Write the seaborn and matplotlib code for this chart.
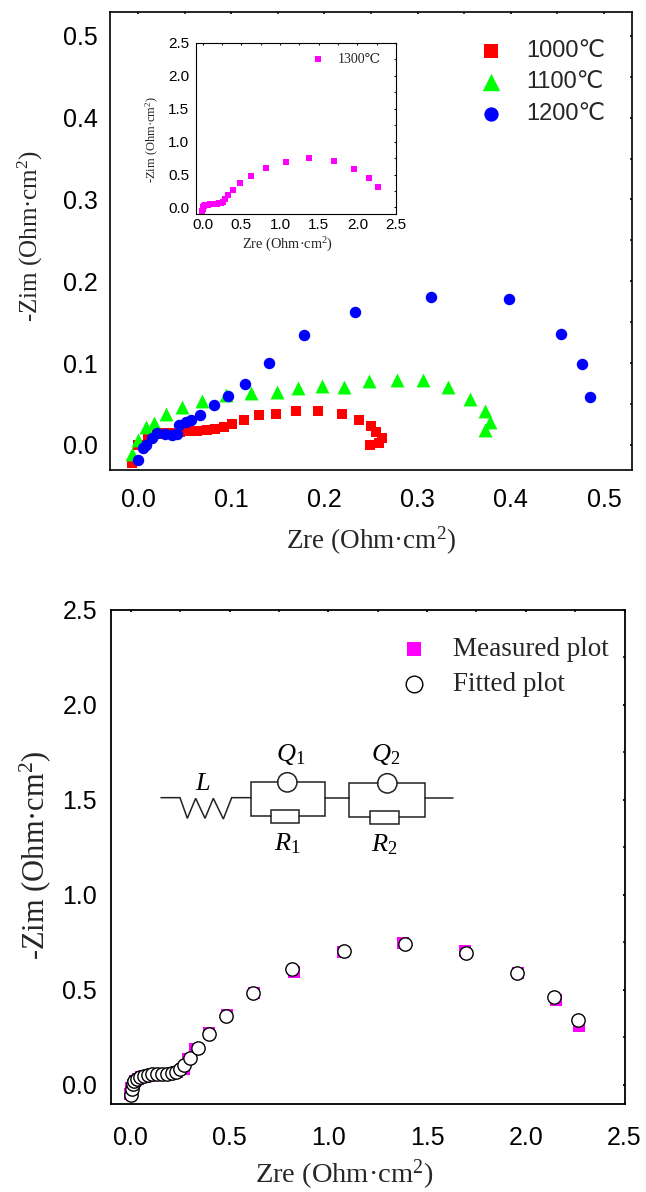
import matplotlib
matplotlib.use("Agg")
import matplotlib.pyplot as plt
import seaborn as sns
from matplotlib.patches import Circle, Rectangle
from matplotlib.ticker import MultipleLocator

# impedance data
x_1000 = [-0.006, 0.0, 0.011, 0.02, 0.029, 0.036, 0.045, 0.054, 0.063, 0.074, 0.083, 0.092, 0.1005, 0.114, 0.13,
          0.148, 0.17, 0.193, 0.219, 0.237, 0.25, 0.255, 0.262, 0.259, 0.249]
y_1000 = [-0.022, 0.0, 0.009, 0.013, 0.014, 0.015, 0.016, 0.017, 0.0175, 0.018, 0.02, 0.022, 0.026, 0.031, 0.036,
          0.038, 0.041, 0.042, 0.038, 0.031, 0.023, 0.016, 0.009, 0.002, 0.0]
x_1100 = [-0.006, 0.0, 0.009, 0.0175, 0.03, 0.047, 0.069, 0.094, 0.121, 0.149, 0.172, 0.197, 0.221, 0.248, 0.278,
          0.306, 0.333, 0.356, 0.372, 0.378, 0.372]
y_1100 = [-0.011, 0.006, 0.022, 0.027, 0.0375, 0.046, 0.054, 0.061, 0.064, 0.065, 0.069, 0.072, 0.071, 0.078, 0.079,
          0.079, 0.071, 0.056, 0.042, 0.028, 0.018]
x_1200 = [0.0, 0.005, 0.009, 0.015, 0.02, 0.029, 0.036, 0.042, 0.044, 0.0515, 0.057, 0.067, 0.0815, 0.097, 0.115,
          0.141, 0.178, 0.233, 0.314, 0.398, 0.4535, 0.476, 0.485]
y_1200 = [-0.018, -0.004, 0.0, 0.008, 0.014, 0.0135, 0.012, 0.013, 0.024, 0.0285, 0.031, 0.037, 0.049, 0.06, 0.075,
          0.1, 0.134, 0.163, 0.1805, 0.178, 0.136, 0.0995, 0.059]

x_meas = [-0.005, 0.0, 0.01, 0.02, 0.035, 0.05, 0.07, 0.09, 0.11, 0.135, 0.16, 0.185, 0.21, 0.235, 0.27, 0.29,
          0.326, 0.394, 0.487, 0.625, 0.826, 1.073, 1.38, 1.694, 1.959, 2.155, 2.271]
y_meas = [-0.048, -0.02, 0.0, 0.018, 0.03, 0.038, 0.043, 0.046, 0.05, 0.053, 0.055, 0.057, 0.06, 0.066, 0.084, 0.135,
          0.187, 0.27, 0.365, 0.485, 0.595, 0.698, 0.744, 0.703, 0.589, 0.447, 0.31]
x_fit = [0.0, 0.005, 0.01, 0.017, 0.031, 0.048, 0.065, 0.085, 0.107, 0.132, 0.157, 0.183, 0.208, 0.228, 0.247, 0.27,
         0.301, 0.338, 0.396, 0.482, 0.62, 0.816, 1.079, 1.39, 1.697, 1.956, 2.141, 2.265]
y_fit = [-0.053, -0.021, 0.002, 0.017, 0.031, 0.042, 0.047, 0.05, 0.054, 0.056, 0.056, 0.056, 0.06, 0.066, 0.08, 0.103,
         0.138, 0.191, 0.266, 0.363, 0.485, 0.607, 0.705, 0.742, 0.695, 0.587, 0.459, 0.34]

sans = ["Liberation Sans", "DejaVu Sans"]
serif = ["Liberation Serif", "DejaVu Serif"]
W, H = 646, 1192

sns.set_theme(style="white")
plt.rcParams["font.family"] = sans
plt.rcParams["mathtext.fontset"] = "custom"
plt.rcParams["mathtext.rm"] = "Liberation Serif"
plt.rcParams["mathtext.it"] = "Liberation Serif:italic"
plt.rcParams["mathtext.default"] = "regular"

XLAB = "Zre (Ohm·cm$^{2}$)"
YLAB = "-Zim (Ohm·cm$^{2}$)"


def px_axes(left, top, right, bottom):
    return fig.add_axes([left / W, 1 - bottom / H, (right - left) / W, (bottom - top) / H])


def style_axes(ax, xmaj, xmin, ymaj, ymin, size, maj, mnr, xpad, ypad, lw):
    ax.xaxis.set_major_locator(MultipleLocator(xmaj))
    ax.xaxis.set_minor_locator(MultipleLocator(xmin))
    ax.yaxis.set_major_locator(MultipleLocator(ymaj))
    ax.yaxis.set_minor_locator(MultipleLocator(ymin))
    ax.xaxis.set_major_formatter("{x:.1f}")
    ax.yaxis.set_major_formatter("{x:.1f}")
    ax.tick_params(which="major", direction="in", length=maj, width=lw, top=True, right=True, labelsize=size,
                   colors="black")
    ax.tick_params(which="minor", direction="in", length=mnr, width=lw, top=True, right=True)
    ax.tick_params(axis="x", which="major", pad=xpad)
    ax.tick_params(axis="y", which="major", pad=ypad)
    # the top and right ticks are only small stubs in the original
    for axis in (ax.xaxis, ax.yaxis):
        for tick in axis.get_major_ticks() + axis.get_minor_ticks():
            tick.tick2line.set_markersize(1.2)
    for spine in ax.spines.values():
        spine.set_visible(True)
        spine.set_color("black")
        spine.set_linewidth(lw)


fig = plt.figure(figsize=(W / 100, H / 100), dpi=100)

# top panel
ax1 = px_axes(110, 12, 632, 470)
sns.scatterplot(x=x_1000, y=y_1000, marker="s", color="#ff0000", s=57, linewidth=0, label="1000℃", ax=ax1, zorder=3)
sns.scatterplot(x=x_1100, y=y_1100, marker="^", color="#00ff00", s=100, linewidth=0, label="1100℃", ax=ax1, zorder=4)
sns.scatterplot(x=x_1200, y=y_1200, marker="o", color="#0000ff", s=68, linewidth=0, label="1200℃", ax=ax1, zorder=5)
ax1.set_xlim(-0.03, 0.53)
ax1.set_ylim(-0.0306, 0.529)
style_axes(ax1, 0.1, 0.05, 0.1, 0.05, 18, 6.7, 3.6, 13, 9, 1.2)
ax1.set_xlabel(XLAB, family=serif, fontsize=19.5)
ax1.set_ylabel(YLAB, family=serif, fontsize=18)
ax1.xaxis.set_label_coords(0.5, (470 - 541) / 458, transform=ax1.transAxes)
ax1.yaxis.set_label_coords((30 - 110) / 522, 1 - (236 - 12) / 458, transform=ax1.transAxes)
ax1.xaxis.label.set_va("center")
ax1.yaxis.label.set_va("center")
ax1.legend(loc="upper left", bbox_to_anchor=((467 - 110) / 522, 1 - (40 - 12) / 458), frameon=False, fontsize=17,
           markerscale=1.25, handletextpad=0.52, labelspacing=0.4, borderpad=0, borderaxespad=0)

# small panel inside the top one
ax_in = px_axes(196, 43, 396, 214)
sns.scatterplot(x=x_meas, y=y_meas, marker="s", color="#ff00ff", s=13, linewidth=0, label="1300℃", ax=ax_in)
ax_in.set_xlim(-0.085, 2.5)
ax_in.set_ylim(-0.1, 2.5)
style_axes(ax_in, 0.5, 0.25, 0.5, 0.25, 11, 3.5, 2, 3, 5, 0.8)
ax_in.set_xlabel(XLAB, family=serif, fontsize=10.4)
ax_in.set_ylabel(YLAB, family=serif, fontsize=9)
ax_in.xaxis.set_label_coords((288 - 196) / 200, (214 - 245) / 171, transform=ax_in.transAxes)
ax_in.yaxis.set_label_coords((152 - 196) / 200, 1 - (140 - 43) / 171, transform=ax_in.transAxes)
ax_in.xaxis.label.set_va("center")
ax_in.yaxis.label.set_va("center")
ax_in.legend(loc="upper left", bbox_to_anchor=((304 - 196) / 200, 1 - (53 - 43) / 171), frameon=False,
             prop={"family": serif, "size": 10}, markerscale=1.2, handletextpad=0.4, borderpad=0, borderaxespad=0)

# bottom panel
ax2 = px_axes(111, 609.5, 624.5, 1103.7)
sns.scatterplot(x=x_meas, y=y_meas, marker="s", color="#ff00ff", s=63, linewidth=0, label="Measured plot", ax=ax2,
                zorder=3)
sns.scatterplot(x=x_fit, y=y_fit, marker="o", color="white", edgecolor="black", s=92, linewidth=1, label="Fitted plot",
                ax=ax2, zorder=4)
ax2.set_xlim(-0.1, 2.5)
ax2.set_ylim(-0.1, 2.5)
style_axes(ax2, 0.5, 0.25, 0.5, 0.25, 18, 7.5, 4, 16, 10, 1.3)
ax2.set_xlabel(XLAB, family=serif, fontsize=20.5)
ax2.set_ylabel(YLAB, family=serif, fontsize=22)
ax2.xaxis.set_label_coords((344 - 111) / 513.5, (1103.7 - 1175) / 494.2, transform=ax2.transAxes)
ax2.yaxis.set_label_coords((35 - 111) / 513.5, 1 - (855 - 609.5) / 494.2, transform=ax2.transAxes)
ax2.xaxis.label.set_va("center")
ax2.yaxis.label.set_va("center")
ax2.legend(loc="upper left", bbox_to_anchor=((387 - 111) / 513.5, 1 - (637 - 609.5) / 494.2), frameon=False,
           prop={"family": serif, "size": 19.5}, markerscale=1.25, handletextpad=0.42, labelspacing=0.36, borderpad=0,
           borderaxespad=0)

# equivalent circuit, drawn in picture pixels
over = fig.add_axes([0, 0, 1, 1], facecolor="none")
over.set_xlim(0, W)
over.set_ylim(H, 0)
over.set_axis_off()


def zoomed(x, y):
    return 150 + x / 3, 720 + y / 3


def wire(*pts):
    xy = [zoomed(*p) for p in pts]
    over.plot([p[0] for p in xy], [p[1] for p in xy], color="#222222", lw=1.1, solid_joinstyle="miter")


wire((33, 233), (90, 233), (112, 295), (137, 235), (165, 295), (190, 235), (220, 297), (245, 233), (302, 233))
wire((302, 233), (302, 186), (383, 186))
wire((441, 187), (526, 187), (526, 288), (448, 288))
wire((362, 288), (302, 288), (302, 233))
wire((526, 233), (598, 233))
wire((598, 233), (598, 189), (683, 189))
wire((741, 190), (826, 190), (826, 290), (747, 290))
wire((661, 290), (598, 290), (598, 233))
wire((826, 233), (908, 233))
for cx, cy in [(412, 187), (712, 190)]:
    over.add_patch(Circle(zoomed(cx, cy), 29 / 3, fc="white", ec="#222222", lw=1.1))
for rx, ry, rw in [(362, 271, 86), (661, 274, 86)]:
    over.add_patch(Rectangle(zoomed(rx, ry), rw / 3, 39 / 3, fc="white", ec="#222222", lw=1.1))

for text, tx, ty in [("$\\mathit{L}$", 160, 193), ("$\\mathit{Q}_{1}$", 423, 103), ("$\\mathit{Q}_{2}$", 707, 103),
                     ("$\\mathit{R}_{1}$", 413, 372), ("$\\mathit{R}_{2}$", 702, 375)]:
    px, py = zoomed(tx, ty)
    over.text(px, py, text, fontsize=19, ha="center", va="center", family=serif, color="black")

fig.savefig("out.png", dpi=100)
